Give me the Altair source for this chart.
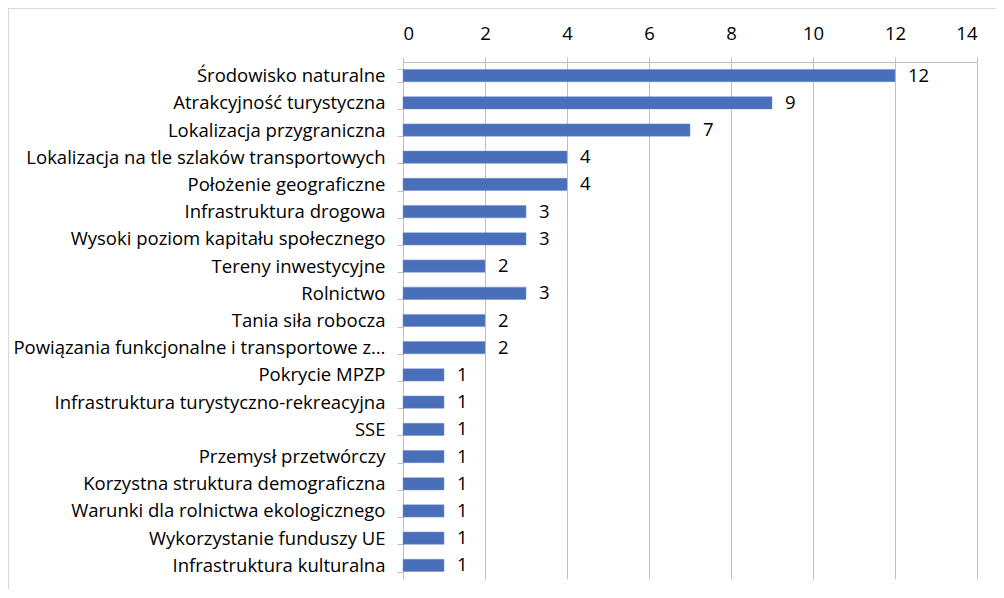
import altair as alt
import pandas as pd

categories = [
    "Środowisko naturalne",
    "Atrakcyjność turystyczna",
    "Lokalizacja przygraniczna",
    "Lokalizacja na tle szlaków transportowych",
    "Położenie geograficzne",
    "Infrastruktura drogowa",
    "Wysoki poziom kapitału społecznego",
    "Tereny inwestycyjne",
    "Rolnictwo",
    "Tania siła robocza",
    "Powiązania funkcjonalne i transportowe z…",
    "Pokrycie MPZP",
    "Infrastruktura turystyczno-rekreacyjna",
    "SSE",
    "Przemysł przetwórczy",
    "Korzystna struktura demograficzna",
    "Warunki dla rolnictwa ekologicznego",
    "Wykorzystanie funduszy UE",
    "Infrastruktura kulturalna",
]
values = [12, 9, 7, 4, 4, 3, 3, 2, 3, 2, 2, 1, 1, 1, 1, 1, 1, 1, 1]
x_ticks = [0, 2, 4, 6, 8, 10, 12, 14]

df = pd.DataFrame({"cat": categories, "val": values})

FONT = "Open Sans"
FS = 18.5
GRID = "#bfbfbf"
BAR = "#4a6fba"

y_enc = alt.Y(
    "cat:N",
    sort=categories,
    title=None,
    scale=alt.Scale(paddingInner=0.55, paddingOuter=0.275),
    axis=alt.Axis(
        labelFont=FONT,
        labelFontSize=FS,
        labelColor="#000000",
        labelPadding=12,
        labelLimit=420,
        tickBand="extent",
        tickSize=6,
        tickColor=GRID,
        domainColor=GRID,
        grid=False,
    ),
)

x_enc = alt.X(
    "val:Q",
    title=None,
    scale=alt.Scale(domain=[0, 14], nice=False),
    axis=alt.Axis(
        orient="top",
        values=x_ticks,
        labelFont=FONT,
        labelFontSize=FS,
        labelColor="#000000",
        labelPadding=14,
        tickSize=5,
        tickColor=GRID,
        domainColor=GRID,
        gridColor=GRID,
        grid=True,
    ),
)

bars = alt.Chart(df).mark_bar(color=BAR, stroke="#6f8fcf", strokeWidth=0.5).encode(x=x_enc, y=y_enc)

labels = alt.Chart(df).mark_text(
    align="left", baseline="middle", dx=13, font=FONT, fontSize=FS, color="#000000"
).encode(x="val:Q", y=alt.Y("cat:N", sort=categories), text="val:Q")

border_top = alt.Chart(df).mark_rule(color="#d9d9d9", strokeWidth=1).encode(
    x=alt.value(-394.5), x2=alt.value(620), y=alt.value(-53.5)
)
border_left = alt.Chart(df).mark_rule(color="#d9d9d9", strokeWidth=1).encode(
    x=alt.value(-394.5), y=alt.value(-53.5), y2=alt.value(560)
)

chart = (
    alt.layer(bars, labels, border_top, border_left)
    .properties(
        width=574,
        height=517,
        autosize=alt.AutoSizeParams(type="none"),
        padding={"left": 395, "top": 54, "right": 19, "bottom": 10},
    )
    .configure_view(stroke=None)
)

chart.save("out.html", embed_options={"renderer": "svg", "actions": False})
